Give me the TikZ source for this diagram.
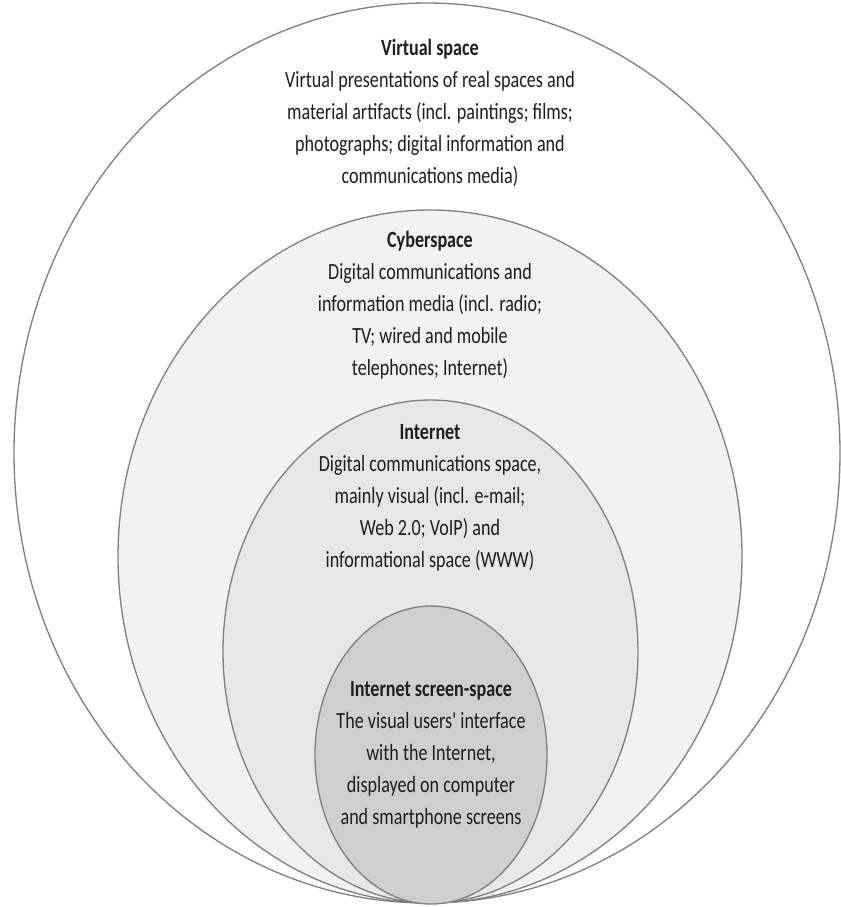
\documentclass[tikz,border=0pt]{standalone}
\usepackage{fontspec}
\setmainfont{Carlito}
\usepackage{tikz}
\usetikzlibrary{positioning}
\usepackage{xcolor}
\definecolor{ringgray}{RGB}{128,128,128}
\definecolor{virtualfill}{RGB}{255,255,255}
\definecolor{cyberfill}{RGB}{242,242,242}
\definecolor{netfill}{RGB}{231,231,231}
\definecolor{screenfill}{RGB}{207,207,207}
\definecolor{spacetextcol}{RGB}{30,30,30}
\tikzstyle{ring} = [draw=ringgray, line width=0.75pt]
\tikzstyle{spacetext} = [align=center, text=spacetextcol, inner sep=0pt, font=\fontsize{13.2}{18.2}\selectfont, xscale=0.78, transform shape]

\begin{document}
\begin{tikzpicture}[x=0.02cm, y=-0.02cm]
\useasboundingbox (0,0) rectangle (841,907);
% Nested spaces, all touching at the bottom
\draw[ring, fill=virtualfill] (427,453) ellipse [x radius=413, y radius=450];
\draw[ring, fill=cyberfill] (430,556.5) ellipse [x radius=312, y radius=346.5];
\draw[ring, fill=netfill] (430.5,651.5) ellipse [x radius=207.5, y radius=251.5];
\draw[ring, fill=screenfill] (431,755) ellipse [x radius=116, y radius=149];

% Labels
\node (virtual) [spacetext] at (430,113) {\textbf{Virtual space}\\Virtual presentations of real spaces and\\material artifacts (incl. paintings; films;\\photographs; digital information and\\communications media)};
\node (cyber) [spacetext] at (430,305) {\textbf{Cyberspace}\\Digital communications and\\information media (incl. radio;\\TV; wired and mobile\\telephones; Internet)};
\node (internet) [spacetext] at (430,498) {\textbf{Internet}\\Digital communications space,\\mainly visual (incl. e-mail;\\Web 2.0; VoIP) and\\informational space (WWW)};
\node (screen) [spacetext] at (431,755) {\textbf{Internet screen-space}\\The visual users\textquotesingle\ interface\\with the Internet,\\displayed on computer\\and smartphone screens};
\end{tikzpicture}
\end{document}
